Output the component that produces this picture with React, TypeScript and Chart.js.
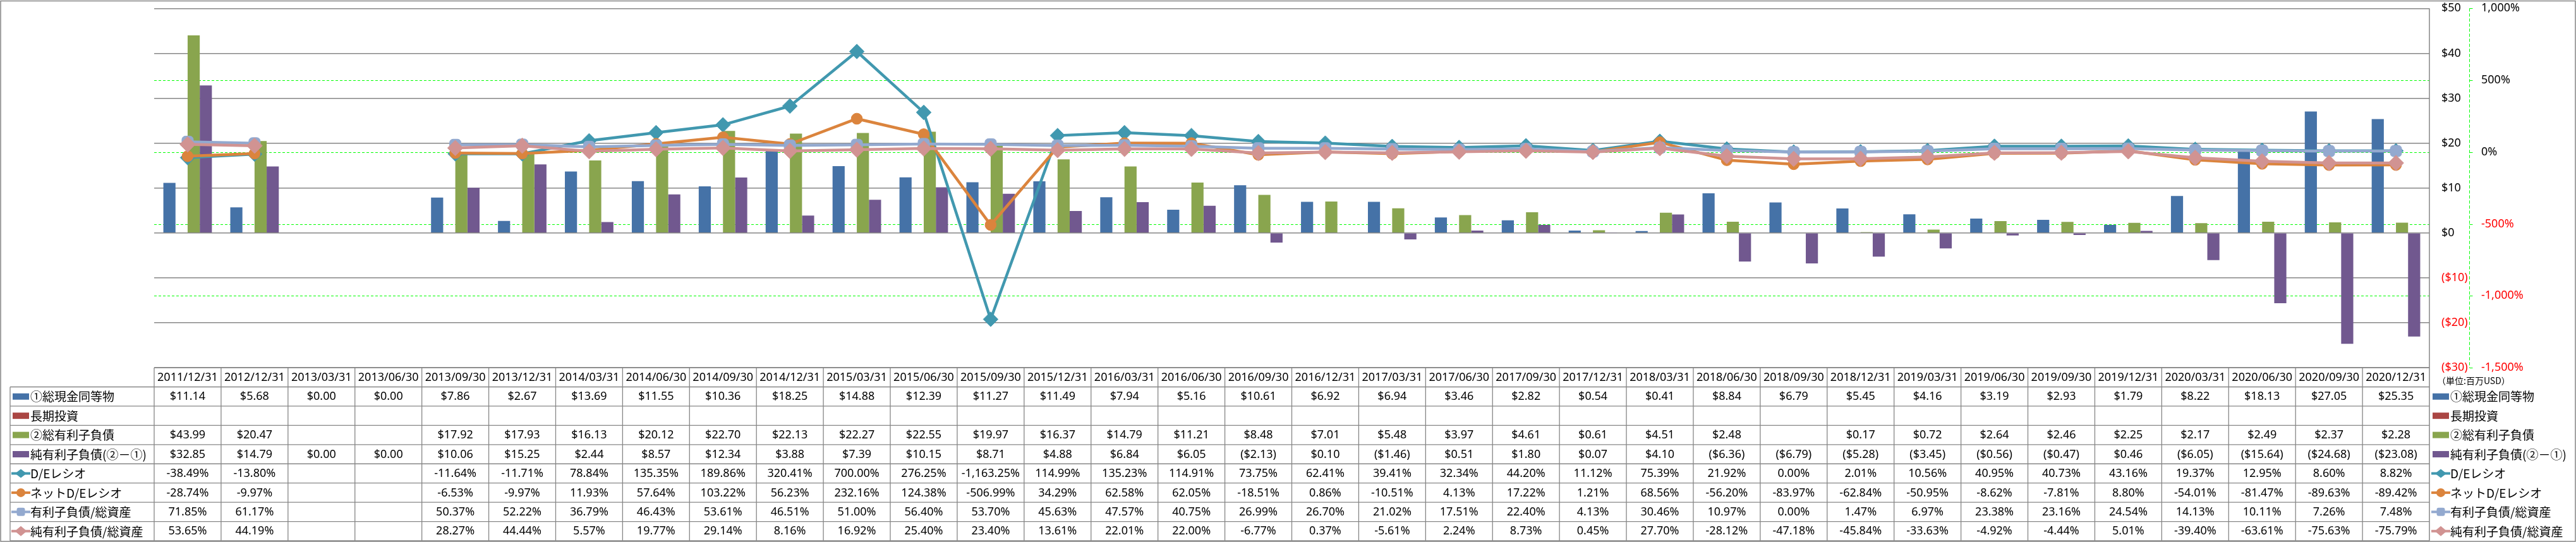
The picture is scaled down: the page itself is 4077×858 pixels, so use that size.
import React, { useEffect, useRef } from 'react';
import { Chart, registerables } from 'chart.js';

Chart.register(...registerables);

const categories = [
  '2011/12/31', '2012/12/31', '2013/03/31', '2013/06/30', '2013/09/30', '2013/12/31',
  '2014/03/31', '2014/06/30', '2014/09/30', '2014/12/31', '2015/03/31', '2015/06/30',
  '2015/09/30', '2015/12/31', '2016/03/31', '2016/06/30', '2016/09/30', '2016/12/31',
  '2017/03/31', '2017/06/30', '2017/09/30', '2017/12/31', '2018/03/31', '2018/06/30',
  '2018/09/30', '2018/12/31', '2019/03/31', '2019/06/30', '2019/09/30', '2019/12/31',
  '2020/03/31', '2020/06/30', '2020/09/30', '2020/12/31',
];

const cashEquivalents = [11.14, 5.68, 0, 0, 7.86, 2.67, 13.69, 11.55, 10.36, 18.25, 14.88, 12.39, 11.27, 11.49, 7.94, 5.16, 10.61, 6.92, 6.94, 3.46, 2.82, 0.54, 0.41, 8.84, 6.79, 5.45, 4.16, 3.19, 2.93, 1.79, 8.22, 18.13, 27.05, 25.35];
const longTermInvestments = [null, null, null, null, null, null, null, null, null, null, null, null, null, null, null, null, null, null, null, null, null, null, null, null, null, null, null, null, null, null, null, null, null, null];
const interestBearingDebt = [43.99, 20.47, null, null, 17.92, 17.93, 16.13, 20.12, 22.70, 22.13, 22.27, 22.55, 19.97, 16.37, 14.79, 11.21, 8.48, 7.01, 5.48, 3.97, 4.61, 0.61, 4.51, 2.48, null, 0.17, 0.72, 2.64, 2.46, 2.25, 2.17, 2.49, 2.37, 2.28];
const netDebt = [32.85, 14.79, 0, 0, 10.06, 15.25, 2.44, 8.57, 12.34, 3.88, 7.39, 10.15, 8.71, 4.88, 6.84, 6.05, -2.13, 0.10, -1.46, 0.51, 1.80, 0.07, 4.10, -6.36, -6.79, -5.28, -3.45, -0.56, -0.47, 0.46, -6.05, -15.64, -24.68, -23.08];
const deRatio = [-38.49, -13.80, null, null, -11.64, -11.71, 78.84, 135.35, 189.86, 320.41, 700.00, 276.25, -1163.25, 114.99, 135.23, 114.91, 73.75, 62.41, 39.41, 32.34, 44.20, 11.12, 75.39, 21.92, 0.00, 2.01, 10.56, 40.95, 40.73, 43.16, 19.37, 12.95, 8.60, 8.82];
const netDeRatio = [-28.74, -9.97, null, null, -6.53, -9.97, 11.93, 57.64, 103.22, 56.23, 232.16, 124.38, -506.99, 34.29, 62.58, 62.05, -18.51, 0.86, -10.51, 4.13, 17.22, 1.21, 68.56, -56.20, -83.97, -62.84, -50.95, -8.62, -7.81, 8.80, -54.01, -81.47, -89.63, -89.42];
const debtToAssets = [71.85, 61.17, null, null, 50.37, 52.22, 36.79, 46.43, 53.61, 46.51, 51.00, 56.40, 53.70, 45.63, 47.57, 40.75, 26.99, 26.70, 21.02, 17.51, 22.40, 4.13, 30.46, 10.97, 0.00, 1.47, 6.97, 23.38, 23.16, 24.54, 14.13, 10.11, 7.26, 7.48];
const netDebtToAssets = [53.65, 44.19, null, null, 28.27, 44.44, 5.57, 19.77, 29.14, 8.16, 16.92, 25.40, 23.40, 13.61, 22.01, 22.00, -6.77, 0.37, -5.61, 2.24, 8.73, 0.45, 27.70, -28.12, -47.18, -45.84, -33.63, -4.92, -4.44, 5.01, -39.40, -63.61, -75.63, -75.79];

const seriesNames = [
  '①総現金同等物', '長期投資', '②総有利子負債', '純有利子負債(②－①)',
  'D/Eレシオ', 'ネットD/Eレシオ', '有利子負債/総資産', '純有利子負債/総資産',
];
const seriesColors = ['#4572A7', '#AA4643', '#89A54E', '#71588F', '#4198AF', '#DB843D', '#93A9CF', '#D19392'];
const seriesKinds = ['money', 'money', 'money', 'money', 'pct', 'pct', 'pct', 'pct'];
const seriesValues = [cashEquivalents, longTermInvestments, interestBearingDebt, netDebt, deRatio, netDeRatio, debtToAssets, netDebtToAssets];
const pointStyles = ['rectRot', 'circle', 'rectRounded', 'rectRot'];
const pointRadii = [11.7, 8.8, 10.5, 12.3];

const moneyTicks = [50, 40, 30, 20, 10, 0, -10, -20, -30];
const pctTicks = [1000, 500, 0, -500, -1000, -1500];
const unitLabel = '（単位:百万USD）';

const FONT = "'Noto Sans', 'Noto Sans CJK JP', sans-serif";
const JFONT = "'Noto Sans CJK JP', 'Noto Sans', sans-serif";

function fmtMoney(v: number | null): string {
  if (v === null || v === undefined) return '';
  const a = Math.abs(v).toFixed(2);
  return v < 0 ? `($${a})` : `$${a}`;
}
function fmtPct(v: number | null): string {
  if (v === null || v === undefined) return '';
  return v.toLocaleString('en-US', { minimumFractionDigits: 2, maximumFractionDigits: 2 }) + '%';
}

function drawKey(ctx: CanvasRenderingContext2D, idx: number, x: number, y: number) {
  const c = seriesColors[idx];
  ctx.save();
  if (idx < 4) {
    ctx.fillStyle = c;
    ctx.fillRect(x, y - 5, 26, 10);
    ctx.restore();
    return;
  }
  ctx.strokeStyle = c;
  ctx.lineWidth = 4;
  ctx.beginPath();
  ctx.moveTo(x - 2, y);
  ctx.lineTo(x + 28, y);
  ctx.stroke();
  const cx = x + 13;
  ctx.fillStyle = c;
  ctx.beginPath();
  const st = pointStyles[idx - 4];
  if (st === 'rectRot') {
    const hw = idx === 7 ? 9.5 : 9;
    const hh = idx === 7 ? 8 : 7;
    ctx.moveTo(cx, y - hh);
    ctx.lineTo(cx + hw, y);
    ctx.lineTo(cx, y + hh);
    ctx.lineTo(cx - hw, y);
    ctx.closePath();
  } else if (st === 'circle') {
    ctx.arc(cx, y, 7, 0, Math.PI * 2);
  } else {
    const s = 13;
    const r = 3;
    const l = cx - s / 2, t = y - s / 2;
    ctx.moveTo(l + r, t);
    ctx.arcTo(l + s, t, l + s, t + s, r);
    ctx.arcTo(l + s, t + s, l, t + s, r);
    ctx.arcTo(l, t + s, l, t, r);
    ctx.arcTo(l, t, l + s, t, r);
    ctx.closePath();
  }
  ctx.fill();
  ctx.restore();
}

const greenGridPlugin = {
  id: 'greenGrid',
  beforeDatasetsDraw(chart: any) {
    const ctx = chart.ctx as CanvasRenderingContext2D;
    const { left, right } = chart.chartArea;
    const y1 = chart.scales.y1;
    ctx.save();
    ctx.strokeStyle = '#00FF00';
    ctx.lineWidth = 1;
    ctx.setLineDash([4, 3]);
    pctTicks.forEach((v) => {
      if (v === pctTicks[0] || v === pctTicks[pctTicks.length - 1]) return;
      const py = Math.round(y1.getPixelForValue(v)) + 0.5;
      ctx.beginPath();
      ctx.moveTo(left, py);
      ctx.lineTo(right, py);
      ctx.stroke();
    });
    ctx.restore();
  },
};

const tablePlugin = {
  id: 'dataTable',
  afterDraw(chart: any) {
    const ctx = chart.ctx as CanvasRenderingContext2D;
    const { left, right, top, bottom } = chart.chartArea;
    const W = chart.width;
    const H = chart.height;
    const xs = chart.scales.x;
    const ys = chart.scales.y;
    const y1 = chart.scales.y1;
    const n = categories.length;
    const colW = (right - left) / n;
    const lineColor = '#868686';

    ctx.save();
    const tableBottom = H - 2;
    ctx.strokeStyle = lineColor;
    ctx.lineWidth = 1.5;
    ctx.beginPath();
    ctx.moveTo(right, top);
    ctx.lineTo(right, tableBottom);
    ctx.stroke();

    // green secondary axis line
    const gx = right + 63.5;
    ctx.strokeStyle = '#00FF00';
    ctx.lineWidth = 1;
    ctx.setLineDash([5, 3]);
    ctx.beginPath();
    ctx.moveTo(gx, y1.getPixelForValue(pctTicks[0]));
    ctx.lineTo(gx, y1.getPixelForValue(pctTicks[pctTicks.length - 1]));
    ctx.stroke();
    ctx.setLineDash([]);
    pctTicks.forEach((v) => {
      const py = Math.round(y1.getPixelForValue(v)) + 0.5;
      ctx.beginPath();
      ctx.moveTo(gx, py);
      ctx.lineTo(gx + 5, py);
      ctx.stroke();
    });

    // axis labels
    ctx.font = `18px ${FONT}`;
    ctx.textBaseline = 'middle';
    ctx.textAlign = 'left';
    moneyTicks.forEach((v) => {
      ctx.fillStyle = v < 0 ? '#FF0000' : '#000000';
      const label = v < 0 ? `($${-v})` : `$${v}`;
      ctx.fillText(label, right + 19, ys.getPixelForValue(v));
    });
    pctTicks.forEach((v) => {
      ctx.fillStyle = v < 0 ? '#FF0000' : '#000000';
      ctx.fillText(v.toLocaleString('en-US') + '%', right + 82, y1.getPixelForValue(v));
    });

    // data table
    const headerTop = bottom;
    const headerBottom = headerTop + 30.5;
    const rowH = (tableBottom - headerBottom) / seriesNames.length;
    const legendLeft = 16;
    ctx.strokeStyle = lineColor;
    ctx.lineWidth = 1.3;
    ctx.beginPath();
    ctx.moveTo(left, headerTop);
    ctx.lineTo(right, headerTop);
    for (let r = 0; r <= seriesNames.length; r++) {
      const yy = headerBottom + r * rowH;
      ctx.moveTo(legendLeft, yy);
      ctx.lineTo(right, yy);
    }
    ctx.moveTo(legendLeft, headerBottom);
    ctx.lineTo(legendLeft, tableBottom);
    for (let i = 0; i < n; i++) {
      const cx = xs.getPixelForValue(i);
      const lx = cx - colW / 2;
      ctx.moveTo(lx, headerTop);
      ctx.lineTo(lx, tableBottom);
    }
    ctx.stroke();

    ctx.fillStyle = '#000000';
    ctx.textAlign = 'center';
    ctx.font = `18px ${FONT}`;
    for (let i = 0; i < n; i++) {
      const cx = xs.getPixelForValue(i);
      ctx.fillText(categories[i], cx, (headerTop + headerBottom) / 2 + 0.5);
      for (let r = 0; r < seriesNames.length; r++) {
        const v = seriesValues[r][i] as number | null;
        const txt = seriesKinds[r] === 'money' ? fmtMoney(v) : fmtPct(v);
        if (txt) ctx.fillText(txt, cx, headerBottom + (r + 0.5) * rowH + 0.5);
      }
    }

    // legend keys in the table, and legend on the right
    ctx.textAlign = 'left';
    ctx.font = `19px ${JFONT}`;
    for (let r = 0; r < seriesNames.length; r++) {
      const cy = headerBottom + (r + 0.5) * rowH;
      drawKey(ctx, r, 20, cy);
      ctx.fillStyle = '#000000';
      ctx.fillText(seriesNames[r], 48, cy + 0.5);
      drawKey(ctx, r, right + 5, cy);
      ctx.fillStyle = '#000000';
      ctx.fillText(seriesNames[r], right + 33, cy + 0.5);
    }
    ctx.font = `14px ${JFONT}`;
    ctx.fillText(unitLabel, right + 12, headerTop + 21);

    // chart border
    ctx.strokeStyle = lineColor;
    ctx.lineWidth = 1.5;
    ctx.strokeRect(1, 1.5, W - 2, H - 2.5);
    ctx.restore();
  },
};

export default function App() {
  const canvasRef = useRef<HTMLCanvasElement | null>(null);

  useEffect(() => {
    document.body.style.margin = '0';
    const canvas = canvasRef.current;
    if (!canvas) return;

    const barSets = [0, 1, 2, 3].map((i) => ({
      type: 'bar' as const,
      label: seriesNames[i],
      data: seriesValues[i],
      backgroundColor: seriesColors[i],
      borderWidth: 0,
      yAxisID: 'y',
      order: 10,
      categoryPercentage: 0.725,
      barPercentage: 1,
    }));
    const lineSets = [4, 5, 6, 7].map((i) => ({
      type: 'line' as const,
      label: seriesNames[i],
      data: seriesValues[i],
      borderColor: seriesColors[i],
      backgroundColor: seriesColors[i],
      borderWidth: 4.5,
      pointStyle: pointStyles[i - 4],
      pointRadius: pointRadii[i - 4],
      pointBackgroundColor: seriesColors[i],
      pointBorderColor: seriesColors[i],
      pointBorderWidth: 1,
      tension: 0,
      spanGaps: false,
      fill: false,
      yAxisID: 'y1',
      order: -(i - 3),
    }));

    const chart = new Chart(canvas, {
      type: 'bar',
      data: { labels: categories, datasets: [...barSets, ...lineSets] as any },
      options: {
        responsive: false,
        animation: false,
        devicePixelRatio: 1,
        layout: { padding: { left: 244, right: 232, top: 13, bottom: 276 } },
        plugins: { legend: { display: false }, tooltip: { enabled: false } },
        scales: {
          x: { type: 'category', display: false, offset: true, grid: { display: false } },
          y: {
            type: 'linear',
            position: 'left',
            min: moneyTicks[moneyTicks.length - 1],
            max: moneyTicks[0],
            ticks: { display: false, stepSize: 10 },
            border: { display: false },
            grid: { color: '#868686', lineWidth: 1.5, drawTicks: false },
            afterFit: (s: any) => { s.width = 0; },
          },
          y1: {
            type: 'linear',
            position: 'left',
            min: pctTicks[pctTicks.length - 1],
            max: pctTicks[0],
            ticks: { display: false, stepSize: 500 },
            border: { display: false },
            grid: { display: false, drawTicks: false },
            afterFit: (s: any) => { s.width = 0; },
          },
        },
      } as any,
      plugins: [greenGridPlugin, tablePlugin],
    });
    return () => chart.destroy();
  }, []);

  return <canvas ref={canvasRef} width={4077} height={858} style={{ display: 'block', width: '4077px', height: '858px' }} />;
}
